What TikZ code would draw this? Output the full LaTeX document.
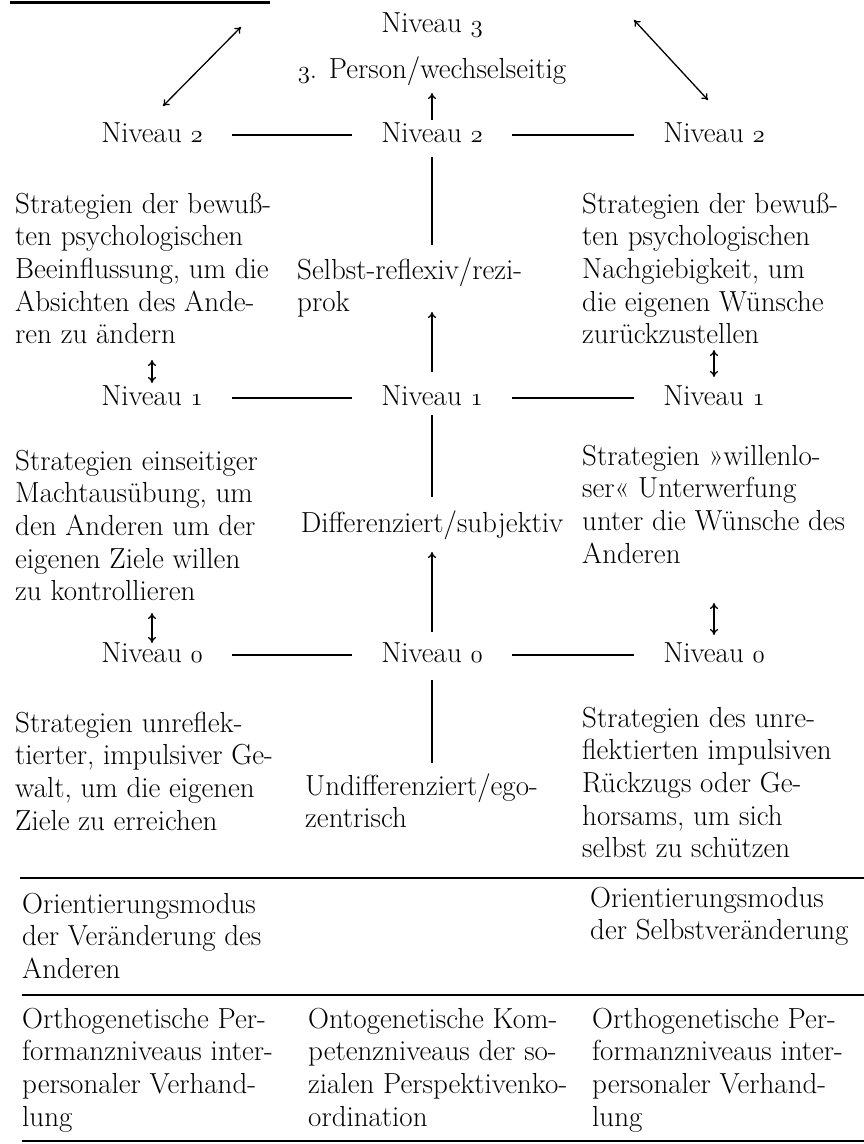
\documentclass[tikz,border=0pt]{standalone}
\usetikzlibrary{arrows.meta,calc}
\newcommand\osn[1]{{\usefont{OML}{lmm}{m}{it}#1}}
\def\LS{32.7}
\begin{document}
\begin{tikzpicture}[x=1pt,y=-1pt,
  txt/.style={inner sep=0pt,anchor=base west,align=left,font=\fontsize{29}{32.7}\selectfont},
  ctr/.style={inner sep=0pt,anchor=base,font=\fontsize{29}{32.7}\selectfont},
  niv/.style={inner sep=0pt,anchor=base,font=\fontsize{29}{32.7}\selectfont,minimum width=160pt,text height=14pt,text depth=0pt},
  conn/.style={line width=1.3pt},
  tip/.tip={To[length=6pt,width=8pt]},
  up/.style={conn,-tip},
  dbl/.style={conn,tip-tip},
  rule/.style={line width=2pt}]
\fill[white] (0,0) rectangle (864,1144);
\useasboundingbox (0,0) rectangle (864,1144);
\draw[line width=3pt] (10,2) -- (270,2);
% top
\node[ctr] (N3) at (432,32) {Niveau \osn{3}};
\node[ctr] (P3) at (432,78) {\osn{3}. Person/wechselseitig};
% row 2
\node[niv] (L2) at (152,142) {Niveau \osn{2}};
\node[niv] (C2) at (432,142) {Niveau \osn{2}};
\node[niv] (R2) at (714,142) {Niveau \osn{2}};
\draw[conn] (L2) -- (C2);
\draw[conn] (C2) -- (R2);
\coordinate (dlA) at (163,106);
\coordinate (dlB) at (241,27);
\coordinate (drA) at (634,20);
\coordinate (drB) at (708,100);
\draw[dbl] (dlA) -- (dlB);
\draw[dbl] (drA) -- (drB);
\draw[up] ([yshift=22pt]C2.base) -- ([yshift=-15pt]P3.base);
% block A (base anchor = last line)
\node[txt] (AL) at (15,{213+4*\LS}) {Strategien der bewuß-\\ten psychologischen\\Beeinflussung, um die\\Absichten des Ande-\\ren zu ändern};
\node[txt] (SR) at (297,{279+\LS}) {Selbst-reflexiv/rezi-\\prok};
\node[txt] (AR) at (582,{213+4*\LS}) {Strategien der bewuß-\\ten psychologischen\\Nachgiebigkeit, um\\die eigenen Wünsche\\zurückzustellen};
\coordinate (c2d) at (432,245);
\draw[conn] ([yshift=-15pt]C2.base) -- (c2d);
% row 1
\node[niv] (L1) at (152,405) {Niveau \osn{1}};
\node[niv] (C1) at (432,405) {Niveau \osn{1}};
\node[niv] (R1) at (714,405) {Niveau \osn{1}};
\draw[conn] (L1) -- (C1);
\draw[conn] (C1) -- (R1);
\coordinate (srt) at (432,312);
\draw[up] ([yshift=33pt]C1.base) -- (srt);
\draw[dbl] ([yshift=45pt]L1.base) -- ([yshift=22pt]L1.base);
\draw[dbl] ([yshift=55pt]R1.base) -- ([yshift=28pt]R1.base);
% block B
\node[txt] (BL) at (15,{470+4*\LS}) {Strategien einseitiger\\Machtausübung, um\\den Anderen um der\\eigenen Ziele willen\\zu kontrollieren};
\node[ctr] (DS) at (432,532) {Differenziert/subjektiv};
\node[txt] (BR) at (582,{465+3*\LS}) {Strategien »willenlo-\\ser« Unterwerfung\\unter die Wünsche des\\Anderen};
\coordinate (c1d) at (432,497);
\draw[conn] ([yshift=-10pt]C1.base) -- (c1d);
% row 0
\node[niv] (L0) at (152,662) {Niveau \osn{0}};
\node[niv] (C0) at (432,662) {Niveau \osn{0}};
\node[niv] (R0) at (714,662) {Niveau \osn{0}};
\draw[conn] (L0) -- (C0);
\draw[conn] (C0) -- (R0);
\draw[up] ([yshift=30pt]C0.base) -- ([yshift=-20pt]DS.base);
\draw[dbl] ([yshift=49pt]L0.base) -- ([yshift=19pt]L0.base);
\draw[dbl] ([yshift=59pt]R0.base) -- ([yshift=27pt]R0.base);
% block C
\node[txt] (CL) at (15,{732+3*\LS}) {Strategien unreflek-\\tierter, impulsiver Ge-\\walt, um die eigenen\\Ziele zu erreichen};
\node[txt] (UE) at (305,{795+\LS}) {Undifferenziert/ego-\\zentrisch};
\node[txt] (CR) at (582,{727+4*\LS}) {Strategien des unre-\\flektierten impulsiven\\Rückzugs oder Ge-\\horsams, um sich\\selbst zu schützen};
\coordinate (c0d) at (432,763);
\draw[conn] ([yshift=-18pt]C0.base) -- (c0d);
% lower rows
\draw[rule] (20,878) -- (864,878);
\node[txt] (OL) at (22,{913+2*\LS}) {Orientierungsmodus\\der Veränderung des\\Anderen};
\node[txt] (OR) at (590,{907+\LS}) {Orientierungsmodus\\der Selbstveränderung};
\draw[rule] (22,995) -- (864,995);
\node[txt] (BtL) at (22,{1028+3*\LS}) {Orthogenetische Per-\\formanzniveaus inter-\\personaler Verhand-\\lung};
\node[txt] (BtC) at (308,{1028+3*\LS}) {Ontogenetische Kom-\\petenzniveaus der so-\\zialen Perspektivenko-\\ordination};
\node[txt] (BtR) at (592,{1028+3*\LS}) {Orthogenetische Per-\\formanzniveaus inter-\\personaler Verhand-\\lung};
\draw[rule] (22,1141) -- (864,1141);
\end{tikzpicture}
\end{document}
